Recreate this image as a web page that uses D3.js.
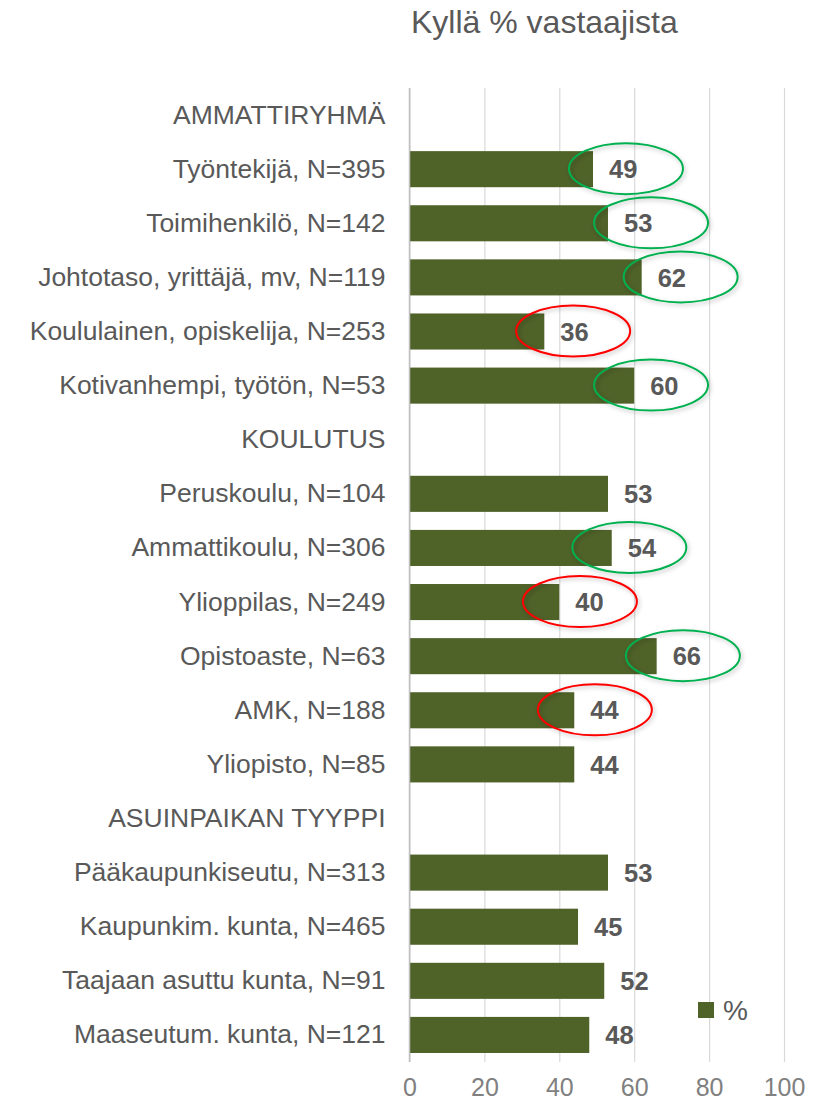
<!DOCTYPE html>
<html>
<head>
<meta charset="utf-8">
<title>Kyllä % vastaajista</title>
<script src="https://d3js.org/d3.v7.min.js"></script>
<style>
    body { margin: 0; background: #fff; }
    svg text { font-family: "Liberation Sans", Arial, sans-serif; }
</style>
</head>
<body>
<div id="chart"></div>
<script>
    // rows top to bottom; group headers have no value
    var categories = [
        "AMMATTIRYHMÄ",
        "Työntekijä, N=395",
        "Toimihenkilö, N=142",
        "Johtotaso, yrittäjä, mv, N=119",
        "Koululainen, opiskelija, N=253",
        "Kotivanhempi, työtön, N=53",
        "KOULUTUS",
        "Peruskoulu, N=104",
        "Ammattikoulu, N=306",
        "Ylioppilas, N=249",
        "Opistoaste, N=63",
        "AMK, N=188",
        "Yliopisto, N=85",
        "ASUINPAIKAN TYYPPI",
        "Pääkaupunkiseutu, N=313",
        "Kaupunkim. kunta, N=465",
        "Taajaan asuttu kunta, N=91",
        "Maaseutum. kunta, N=121"
    ];
    var values = [null, 49, 53, 62, 36, 60, null, 53, 54, 40, 66, 44, 44, null, 53, 45, 52, 48];
    var xTicks = [0, 20, 40, 60, 80, 100];

    // hand-drawn circles: which row, colour, centre on the % axis
    var circled = ["Työntekijä, N=395", "Toimihenkilö, N=142", "Johtotaso, yrittäjä, mv, N=119",
        "Koululainen, opiskelija, N=253", "Kotivanhempi, työtön, N=53", "Ammattikoulu, N=306",
        "Ylioppilas, N=249", "Opistoaste, N=63", "AMK, N=188"];
    var circleTone = ["good", "good", "good", "bad", "good", "good", "bad", "good", "bad"];
    var circleAt = [57.8, 64.5, 72.4, 43.7, 64.5, 58.7, 45.5, 73.0, 49.5];

    var W = 815, H = 1106;
    var margin = { top: 88, right: 31, bottom: 44, left: 409.5 };
    var barColor = "#4f6228";
    var toneColor = { good: "#00b050", bad: "#ff0000" };

    var svg = d3.select("#chart").append("svg")
        .attr("width", W)
        .attr("height", H);

    var defs = svg.append("defs");
    var shadow = defs.append("filter").attr("id", "shadow")
        .attr("x", "-20%").attr("y", "-30%").attr("width", "140%").attr("height", "160%");
    shadow.append("feDropShadow")
        .attr("dx", 1.5).attr("dy", 2).attr("stdDeviation", 2)
        .attr("flood-color", "#000").attr("flood-opacity", 0.25);

    var x = d3.scaleLinear().domain([0, 100]).range([margin.left, W - margin.right]);
    var y = d3.scaleBand().domain(categories)
        .range([margin.top, H - margin.bottom])
        .paddingInner(1 / 3).paddingOuter(1 / 6);

    // gridlines + tick labels
    var xAxis = svg.append("g")
        .attr("transform", "translate(0," + (H - margin.bottom) + ")")
        .call(d3.axisBottom(x).tickValues(xTicks).tickSize(-(H - margin.bottom - margin.top)).tickPadding(16));
    xAxis.select(".domain").remove();
    xAxis.selectAll(".tick line").attr("stroke", "#d9d9d9").attr("stroke-width", 1.2);
    xAxis.selectAll(".tick text")
        .attr("fill", "#808080")
        .style("font-size", "25px");

    // category axis
    var yAxis = svg.append("g")
        .attr("transform", "translate(" + margin.left + ",0)")
        .call(d3.axisLeft(y).tickSize(0).tickPadding(24));
    yAxis.select(".domain").remove();
    yAxis.selectAll(".tick text")
        .attr("fill", "#595959")
        .style("font-size", "26.5px");

    // bars
    var rows = categories.map(function (c, i) { return { cat: c, v: values[i] }; })
        .filter(function (d) { return d.v != null; });

    svg.append("g").selectAll("rect")
        .data(rows)
        .join("rect")
        .attr("x", x(0))
        .attr("y", function (d) { return y(d.cat); })
        .attr("width", function (d) { return x(d.v) - x(0); })
        .attr("height", y.bandwidth())
        .attr("fill", barColor);

    // vertical axis line
    svg.append("line")
        .attr("x1", x(0)).attr("x2", x(0))
        .attr("y1", margin.top).attr("y2", H - margin.bottom)
        .attr("stroke", "#bfbfbf").attr("stroke-width", 1.5);

    // value labels
    svg.append("g").selectAll("text")
        .data(rows)
        .join("text")
        .attr("x", function (d) { return x(d.v) + 16; })
        .attr("y", function (d) { return y(d.cat) + y.bandwidth() / 2; })
        .attr("dy", "0.36em")
        .attr("fill", "#595959")
        .style("font-size", "25.5px")
        .style("font-weight", "bold")
        .text(function (d) { return d.v; });

    // circles around the highlighted values
    svg.append("g").selectAll("ellipse")
        .data(circled)
        .join("ellipse")
        .attr("cx", function (d, i) { return x(circleAt[i]); })
        .attr("cy", function (d) { return y(d) + y.bandwidth() / 2 - 0.5; })
        .attr("rx", 57)
        .attr("ry", 25.5)
        .attr("fill", "none")
        .attr("stroke", function (d, i) { return toneColor[circleTone[i]]; })
        .attr("stroke-width", 2)
        .attr("filter", "url(#shadow)");

    // title
    svg.append("text")
        .attr("x", 411)
        .attr("y", 33)
        .attr("fill", "#595959")
        .style("font-size", "32px")
        .text("Kyllä % vastaajista");

    // legend
    var legend = svg.append("g").attr("transform", "translate(698,1002)");
    legend.append("rect").attr("width", 16).attr("height", 16).attr("fill", barColor);
    legend.append("text")
        .attr("x", 25)
        .attr("y", 18)
        .attr("fill", "#595959")
        .style("font-size", "28px")
        .text("%");
</script>
</body>
</html>
